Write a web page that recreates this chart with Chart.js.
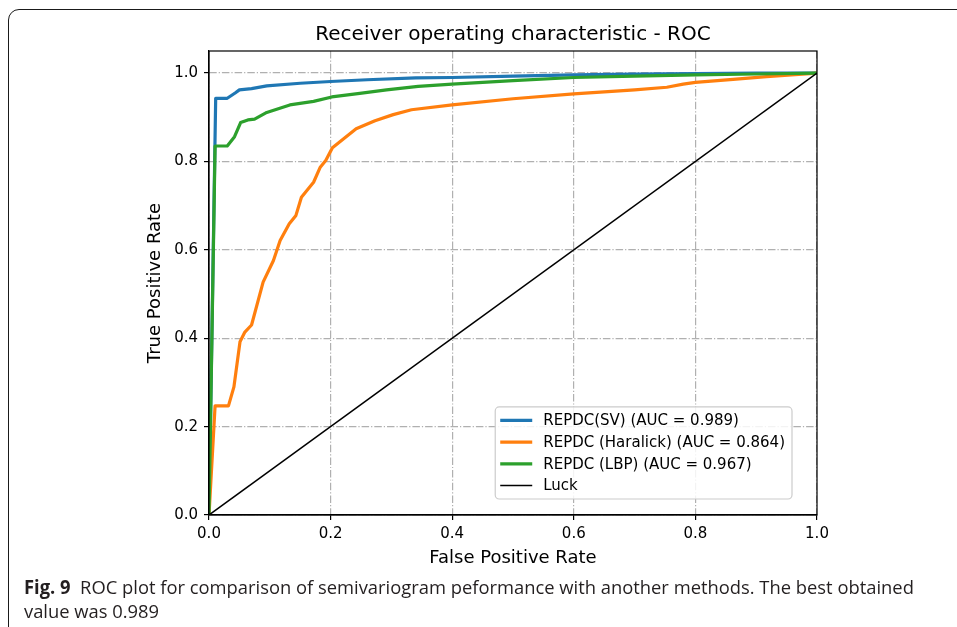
<!DOCTYPE html>
<html>
<head>
<meta charset="utf-8">
<title>Receiver operating characteristic - ROC</title>
<script src="https://cdn.jsdelivr.net/npm/chart.js@4.4.1/dist/chart.umd.min.js"></script>
<style>
  html, body { margin: 0; padding: 0; background: #fff; overflow: hidden; }
  body { width: 957px; height: 627px; position: relative; }
  .frame {
    position: absolute; left: 8px; top: 9px; width: 1000px; height: 700px;
    border: 1.5px solid #1a1a1a; border-radius: 11px; box-sizing: border-box;
  }
  #roc { position: absolute; left: 0; top: 0; }
  .cap {
    position: absolute; left: 24px; font-family: "Open Sans", sans-serif; font-size: 19px;
    line-height: 19px; color: #231f20; white-space: nowrap; transform-origin: 0 0;
  }
</style>
</head>
<body>
<div class="frame"></div>
<canvas id="roc" width="957" height="627"></canvas>
<div class="cap" id="cap1" style="top:578px"><b>Fig. 9</b>&nbsp;&nbsp;ROC plot for comparison of semivariogram peformance with another methods. The best obtained</div>
<div class="cap" id="cap2" style="top:602px">value was 0.989</div>
<script>
// ROC curves (false positive rate / true positive rate)
const svFpr = [0, 0.011, 0.03, 0.043, 0.05, 0.07, 0.095, 0.15, 0.2, 0.26, 0.34, 0.4, 0.5, 0.6, 0.7, 0.8, 0.9, 1];
const svTpr = [0, 0.943, 0.943, 0.955, 0.962, 0.965, 0.971, 0.977, 0.981, 0.985, 0.989, 0.990, 0.993, 0.996, 0.998, 0.999, 1, 1];

const haFpr = [0, 0.01, 0.032, 0.041, 0.051, 0.059, 0.07, 0.089, 0.106, 0.117, 0.132, 0.143, 0.152, 0.172, 0.183, 0.192,
               0.203, 0.242, 0.273, 0.303, 0.333, 0.4, 0.5, 0.6, 0.7, 0.753, 0.78, 0.8, 0.862, 0.917, 1];
const haTpr = [0, 0.247, 0.247, 0.29, 0.392, 0.414, 0.43, 0.527, 0.576, 0.621, 0.659, 0.678, 0.719, 0.753, 0.787, 0.802,
               0.831, 0.874, 0.892, 0.906, 0.917, 0.928, 0.942, 0.953, 0.962, 0.968, 0.975, 0.979, 0.986, 0.992, 1];

const lbpFpr = [0, 0.01, 0.03, 0.042, 0.052, 0.064, 0.075, 0.095, 0.133, 0.172, 0.202, 0.248, 0.292, 0.344, 0.4, 0.5, 0.6, 0.7, 0.8, 0.9, 1];
const lbpTpr = [0, 0.835, 0.835, 0.856, 0.888, 0.894, 0.896, 0.911, 0.928, 0.936, 0.946, 0.954, 0.962, 0.970, 0.975, 0.983, 0.990, 0.993, 0.996, 0.998, 1];

const luckFpr = [0, 1];
const luckTpr = [0, 1];

const seriesLabels = [
  "REPDC(SV) (AUC = 0.989)",
  "REPDC (Haralick) (AUC = 0.864)",
  "REPDC (LBP) (AUC = 0.967)",
  "Luck"
];
const xTicks = [0, 0.2, 0.4, 0.6, 0.8, 1.0];
const yTicks = [0, 0.2, 0.4, 0.6, 0.8, 1.0];

const FONT = "DejaVu Sans";

const toPoints = (xs, ys) => xs.map((x, i) => ({ x: x, y: ys[i] }));

const curve = (label, xs, ys, color, width, order) => ({
  label: label,
  data: toPoints(xs, ys),
  borderColor: color,
  backgroundColor: color,
  borderWidth: width,
  showLine: true,
  pointRadius: 0,
  pointHoverRadius: 0,
  borderJoinStyle: "round",
  tension: 0,
  order: order
});

// full box around the axes, drawn over the curves like the spines
const axesBox = {
  id: "axesBox",
  afterDatasetsDraw(chart) {
    const { ctx, chartArea: a } = chart;
    ctx.save();
    ctx.strokeStyle = "#000";
    ctx.lineWidth = 1.2;
    ctx.strokeRect(a.left, a.top, a.right - a.left, a.bottom - a.top);
    ctx.restore();
  }
};

// framed legend in the lower right corner of the plot
const boxLegend = {
  id: "boxLegend",
  afterDraw(chart) {
    const { ctx, chartArea: a } = chart;
    const sets = chart.data.datasets;
    ctx.save();
    ctx.font = "15px '" + FONT + "'";
    const textW = Math.max(...sets.map(d => ctx.measureText(d.label).width));
    const rowH = 21.7;
    const w = 6 + 30 + 12 + textW + 7;
    const h = 27 + rowH * (sets.length - 1);
    const right = a.right - 25, bottom = a.bottom - 16;
    const left = right - w, top = bottom - h;

    ctx.beginPath();
    ctx.roundRect(left, top, w, h, 4);
    ctx.fillStyle = "rgba(255,255,255,0.85)";
    ctx.fill();
    ctx.strokeStyle = "#cccccc";
    ctx.lineWidth = 1.2;
    ctx.stroke();

    sets.forEach((d, i) => {
      const y = top + 13.5 + i * rowH;
      ctx.beginPath();
      ctx.moveTo(left + 5, y);
      ctx.lineTo(left + 37, y);
      ctx.strokeStyle = d.borderColor;
      ctx.lineWidth = d.borderWidth;
      ctx.stroke();
      ctx.fillStyle = "#000";
      ctx.textBaseline = "middle";
      ctx.fillText(d.label, left + 48, y + 1);
    });
    ctx.restore();
  }
};

const tickFont = { family: FONT, size: 15 };
const gridOpts = { color: "#b0b0b0", lineWidth: 1.2, tickLength: 5, tickColor: "#000", tickWidth: 1.2 };
const borderOpts = { color: "#000", width: 1.2, dash: [7.5, 2, 1.2, 2] };

new Chart(document.getElementById("roc"), {
  type: "scatter",
  data: {
    datasets: [
      curve(seriesLabels[0], svFpr, svTpr, "#1f77b4", 3.2, 3),
      curve(seriesLabels[1], haFpr, haTpr, "#ff7f0e", 3.2, 2),
      curve(seriesLabels[2], lbpFpr, lbpTpr, "#2ca02c", 3.2, 1),
      curve(seriesLabels[3], luckFpr, luckTpr, "#000000", 1.5, 0)
    ]
  },
  options: {
    responsive: false,
    animation: false,
    events: [],
    layout: { padding: { left: 0, right: 140, top: 0, bottom: 52 } },
    plugins: {
      legend: { display: false },
      tooltip: { enabled: false },
      title: {
        display: true,
        text: "Receiver operating characteristic - ROC",
        fullSize: false,
        color: "#000",
        font: { family: FONT, size: 20, weight: "normal" },
        padding: { top: 23, bottom: 4 }
      }
    },
    scales: {
      x: {
        type: "linear",
        min: 0,
        max: 1,
        afterBuildTicks: s => { s.ticks = xTicks.map(v => ({ value: v })); },
        afterFit: s => { s.height = 60; },
        ticks: { callback: v => Number(v).toFixed(1), color: "#000", font: tickFont, padding: 5, maxRotation: 0, autoSkip: false },
        grid: gridOpts,
        border: borderOpts,
        title: {
          display: true, text: "False Positive Rate", color: "#000",
          font: { family: FONT, size: 18 }, padding: { top: 0, bottom: 6 }
        }
      },
      y: {
        type: "linear",
        min: 0,
        max: 1.05,
        afterBuildTicks: s => { s.ticks = yTicks.map(v => ({ value: v })); },
        afterFit: s => { s.width = 209; },
        ticks: { callback: v => Number(v).toFixed(1), color: "#000", font: tickFont, padding: 6, autoSkip: false },
        grid: gridOpts,
        border: borderOpts,
        title: {
          display: true, text: "True Positive Rate", color: "#000",
          font: { family: FONT, size: 18 }, padding: { top: 145, bottom: 0 }
        }
      }
    }
  },
  plugins: [axesBox, boxLegend]
});

// caption set in a condensed measure; offsetWidth ignores the transform
function fitCaption() {
  const c1 = document.getElementById("cap1");
  const c2 = document.getElementById("cap2");
  const k = 890 / c1.offsetWidth;
  c1.style.transform = "scaleX(" + k + ")";
  c2.style.transform = "scaleX(" + k + ")";
}
fitCaption();
if (document.fonts && document.fonts.ready) document.fonts.ready.then(fitCaption);
</script>
</body>
</html>
